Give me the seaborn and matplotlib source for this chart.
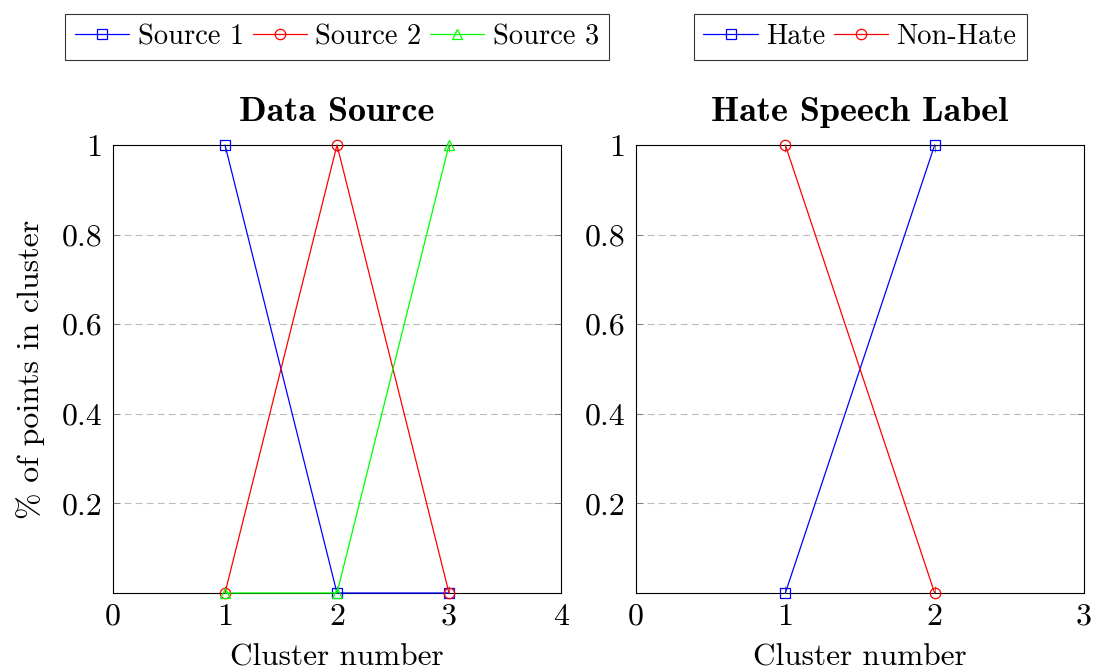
import pandas as pd
import seaborn as sns
import matplotlib.pyplot as plt
from matplotlib.lines import Line2D

# Datos del gráfico
clusters_src = [1, 2, 3]
source1 = [1, 0, 0]
source2 = [0, 1, 0]
source3 = [0, 0, 1]
src_labels = ['Source 1', 'Source 2', 'Source 3']

clusters_hate = [1, 2]
hate = [0, 1]
non_hate = [1, 0]
hate_labels = ['Hate', 'Non-Hate']

y_ticks = [0.2, 0.4, 0.6, 0.8, 1.0]
y_ticklabels = ['0.2', '0.4', '0.6', '0.8', '1']
x_ticks_left = [0, 1, 2, 3, 4]
x_ticks_right = [0, 1, 2, 3]

colors = ['#0000ff', '#ff0000', '#00ff00']
markers = ['s', 'o', '^']

sns.set_style('ticks')
plt.rcParams['font.family'] = ['cmr10', 'DejaVu Serif']
plt.rcParams['axes.formatter.use_mathtext'] = True
plt.rcParams['text.color'] = 'black'
plt.rcParams['axes.labelcolor'] = 'black'

fig = plt.figure(figsize=(10.95, 6.71), dpi=100)
ax1 = fig.add_axes([113 / 1095, 78 / 671, 448 / 1095, 448 / 671])
ax2 = fig.add_axes([636 / 1095, 78 / 671, 448 / 1095, 448 / 671])

FS_TICK = 23
FS_LAB = 22.5
FS_LEG = 20.5
FS_TITLE = 26


def draw_panel(ax, x, series, labels, xticks, title):
    handles = []
    for i, (vals, lab) in enumerate(zip(series, labels)):
        df = pd.DataFrame({'x': x, 'y': vals})
        sns.lineplot(data=df, x='x', y='y', ax=ax, color=colors[i], marker=markers[i],
                     markersize=7.5, markerfacecolor='none', markeredgecolor=colors[i],
                     markeredgewidth=0.9, linewidth=0.9, zorder=3 + i, clip_on=False)
        handles.append(Line2D([], [], color=colors[i], marker=markers[i], markersize=7.5,
                              markerfacecolor='none', markeredgecolor=colors[i],
                              markeredgewidth=0.9, linewidth=0.9))
    ax.set_xlim(xticks[0], xticks[-1])
    ax.set_ylim(0, 1)
    ax.set_xticks(xticks)
    ax.set_xticklabels([str(t) for t in xticks], fontsize=FS_TICK)
    ax.set_yticks(y_ticks)
    ax.set_yticklabels(y_ticklabels, fontsize=FS_TICK)
    ax.yaxis.grid(True, linestyle=(0, (6, 4)), color='#bbbbbb', linewidth=0.8)
    ax.tick_params(direction='in', length=5, width=0.7, color='#808080',
                   labelcolor='black', top=True, right=True, pad=7.5)
    for sp in ax.spines.values():
        sp.set_linewidth(0.8)
        sp.set_color('black')
    ax.set_xlabel('Cluster number', fontsize=FS_LAB, labelpad=9)
    ax.set_ylabel('')
    ax.set_title(title, fontsize=FS_TITLE, fontfamily='cmb10', pad=17, color='black')
    leg = ax.legend(handles, labels, loc='lower center', bbox_to_anchor=(0.5, 1 + 85 / 448),
                    ncol=len(labels), fontsize=FS_LEG, frameon=True, fancybox=False,
                    edgecolor='black', handlelength=1.9, handletextpad=0.3,
                    columnspacing=0.3, borderpad=0.35, borderaxespad=0)
    leg.get_frame().set_linewidth(0.8)


draw_panel(ax1, clusters_src, [source1, source2, source3], src_labels,
           x_ticks_left, 'Data Source')
draw_panel(ax2, clusters_hate, [hate, non_hate], hate_labels,
           x_ticks_right, 'Hate Speech Label')
ax1.set_ylabel('% of points in cluster', fontsize=FS_TICK, labelpad=12)

fig.savefig('out.png', dpi=100)
